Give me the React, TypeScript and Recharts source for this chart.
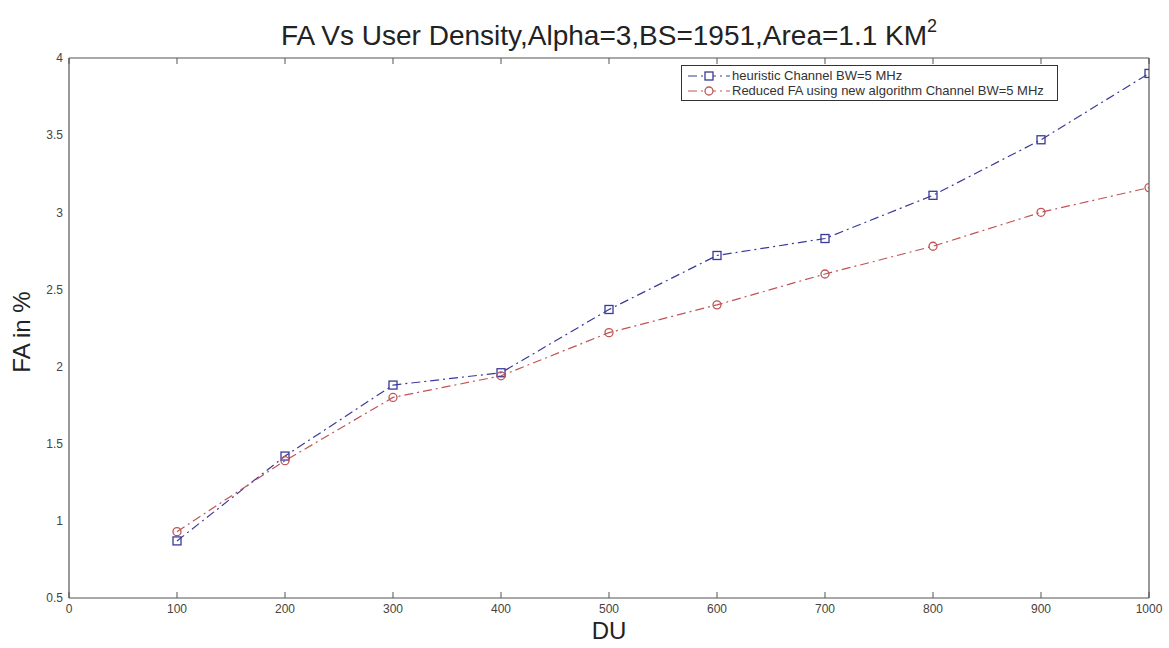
import React from 'react';
import { LineChart, Line, XAxis, YAxis, Legend } from 'recharts';

const duValues = [100, 200, 300, 400, 500, 600, 700, 800, 900, 1000];
const heuristicFA = [0.87, 1.42, 1.88, 1.96, 2.37, 2.72, 2.83, 3.11, 3.47, 3.9];
const reducedFA = [0.93, 1.39, 1.8, 1.94, 2.22, 2.4, 2.6, 2.78, 3.0, 3.16];
const xTicks = [0, 100, 200, 300, 400, 500, 600, 700, 800, 900, 1000];
const yTicks = [0.5, 1, 1.5, 2, 2.5, 3, 3.5, 4];

const heuristicName = 'heuristic Channel BW=5 MHz';
const reducedName = 'Reduced FA using new algorithm Channel BW=5 MHz';
const seriesOrder = ['heuristic', 'reduced'];

const BLUE = '#3a3a9c';
const RED = '#c05454';
const AXIS = '#555';
const DASH = '9 4 2 4';

const data = duValues.map((du, i) => ({ du, heuristic: heuristicFA[i], reduced: reducedFA[i] }));

const tickStyle = { fontFamily: '"Liberation Sans Narrow", "Liberation Sans", Arial, sans-serif', fontSize: 12, fill: '#444' };
const blank = () => '';

const SquareDot = (props: any) => {
  const { cx, cy, index } = props;
  if (cx == null || cy == null) return <g key={`s${index}`} />;
  return <rect key={`s${index}`} x={cx - 4} y={cy - 4} width={8} height={8} fill="none" stroke={BLUE} strokeWidth={1.3} />;
};

const CircleDot = (props: any) => {
  const { cx, cy, index } = props;
  if (cx == null || cy == null) return <g key={`c${index}`} />;
  return <circle key={`c${index}`} cx={cx} cy={cy} r={4} fill="none" stroke={RED} strokeWidth={1.3} />;
};

const renderLegend = (props: any) => {
  const payload = [...(props.payload || [])].sort(
    (a: any, b: any) => seriesOrder.indexOf(a.dataKey) - seriesOrder.indexOf(b.dataKey)
  );
  return (
    <div style={{ border: '1px solid #333', background: '#fff', padding: '2px 4px', boxSizing: 'border-box', width: 377 }}>
      {payload.map((entry: any) => {
        const isBlue = entry.dataKey === 'heuristic';
        const c = isBlue ? BLUE : RED;
        return (
          <div key={entry.dataKey} style={{ display: 'flex', alignItems: 'center', height: 15 }}>
            <svg width={46} height={14} style={{ flex: 'none' }}>
              <line x1={2} y1={7} x2={44} y2={7} stroke={c} strokeWidth={1.2} strokeDasharray={DASH} />
              {isBlue ? (
                <rect x={19} y={3} width={8} height={8} fill="#fff" stroke={c} strokeWidth={1.3} />
              ) : (
                <circle cx={23} cy={7} r={4} fill="#fff" stroke={c} strokeWidth={1.3} />
              )}
            </svg>
            <span style={{ fontFamily: '"Liberation Sans", Arial, sans-serif', fontSize: 13, color: '#333', whiteSpace: 'nowrap' }}>
              {entry.value}
            </span>
          </div>
        );
      })}
    </div>
  );
};

export default function App() {
  return (
    <div style={{ position: 'absolute', left: 0, top: 0, width: 1169, height: 648, background: '#fff' }}>
      <LineChart width={1169} height={648} data={data} margin={{ top: 58, right: 20, bottom: 0, left: 0 }}>
        {/* inward tick marks on all four sides (MATLAB style box) */}
        <XAxis
          xAxisId="bottomTicks"
          dataKey="du"
          type="number"
          domain={[0, 1000]}
          ticks={xTicks}
          height={1}
          mirror
          tickSize={6}
          tickFormatter={blank}
          tickLine={{ stroke: AXIS }}
          axisLine={{ stroke: AXIS, strokeWidth: 1.2 }}
        />
        <XAxis
          dataKey="du"
          type="number"
          domain={[0, 1000]}
          ticks={xTicks}
          height={50}
          tickSize={0}
          tickMargin={6}
          tick={tickStyle}
          tickLine={false}
          axisLine={false}
          allowDataOverflow
        />
        <XAxis
          xAxisId="top"
          orientation="top"
          dataKey="du"
          type="number"
          domain={[0, 1000]}
          ticks={xTicks}
          height={1}
          mirror
          tickSize={6}
          tickFormatter={blank}
          tickLine={{ stroke: AXIS }}
          axisLine={{ stroke: AXIS, strokeWidth: 1.2 }}
        />
        <YAxis
          yAxisId="leftTicks"
          type="number"
          domain={[0.5, 4]}
          ticks={yTicks}
          width={1}
          mirror
          tickSize={6}
          tickFormatter={blank}
          tickLine={{ stroke: AXIS }}
          axisLine={{ stroke: AXIS, strokeWidth: 1.2 }}
        />
        <YAxis
          type="number"
          domain={[0.5, 4]}
          ticks={yTicks}
          width={69}
          tickSize={0}
          tickMargin={6}
          tick={tickStyle}
          tickLine={false}
          axisLine={false}
          allowDataOverflow
        />
        <YAxis
          yAxisId="right"
          orientation="right"
          type="number"
          domain={[0.5, 4]}
          ticks={yTicks}
          width={1}
          mirror
          tickSize={6}
          tickFormatter={blank}
          tickLine={{ stroke: AXIS }}
          axisLine={{ stroke: AXIS, strokeWidth: 1.2 }}
        />
        <Legend
          layout="horizontal"
          verticalAlign="middle"
          align="center"
          content={renderLegend}
          wrapperStyle={{ position: 'absolute', left: 681, top: 65, width: 377, height: 'auto' }}
        />
        <Line
          type="linear"
          dataKey="heuristic"
          name={heuristicName}
          stroke={BLUE}
          strokeWidth={1.2}
          strokeDasharray={DASH}
          dot={SquareDot}
          activeDot={false}
          isAnimationActive={false}
        />
        <Line
          type="linear"
          dataKey="reduced"
          name={reducedName}
          stroke={RED}
          strokeWidth={1.2}
          strokeDasharray={DASH}
          dot={CircleDot}
          activeDot={false}
          isAnimationActive={false}
        />
      </LineChart>
      <div
        style={{
          position: 'absolute', left: 69, top: 22, width: 1080, textAlign: 'center',
          fontFamily: '"Liberation Sans", Arial, sans-serif', fontSize: 28, lineHeight: '28px', color: '#222', whiteSpace: 'nowrap',
        }}
      >
        FA Vs User Density,Alpha=3,BS=1951,Area=1.1 KM<sup style={{ fontSize: 18, lineHeight: 0, verticalAlign: '0.7em' }}>2</sup>
      </div>
      <div
        style={{
          position: 'absolute', left: 69, top: 619, width: 1080, textAlign: 'center',
          fontFamily: '"Liberation Sans", Arial, sans-serif', fontSize: 24, lineHeight: '24px', color: '#222',
        }}
      >
        DU
      </div>
      <div
        style={{
          position: 'absolute', left: 22, top: 332, transform: 'translate(-50%, -50%) rotate(-90deg)',
          fontFamily: '"Liberation Sans", Arial, sans-serif', fontSize: 24, lineHeight: '24px', color: '#222', whiteSpace: 'nowrap',
        }}
      >
        FA in %
      </div>
    </div>
  );
}
